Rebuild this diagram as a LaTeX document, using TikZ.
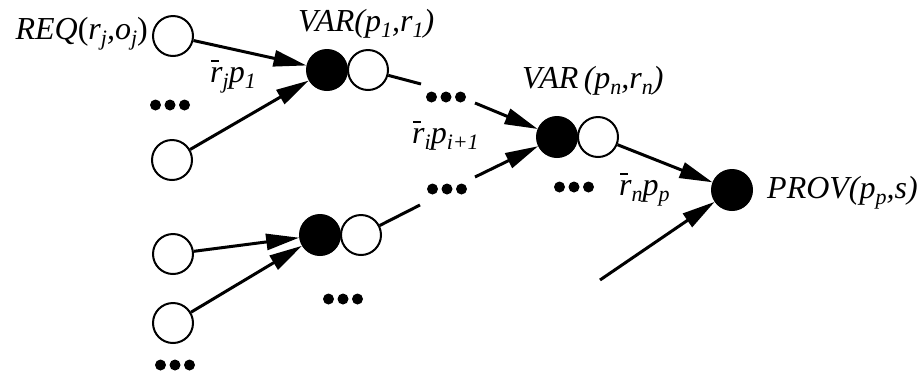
\documentclass[tikz,border=0pt]{standalone}
\usepackage{fontspec}
\setmainfont{Liberation Serif}
\usetikzlibrary{arrows.meta}
\newcommand\rb{\makebox[0pt][l]{\kern0.03em\rule[0.62em]{0.26em}{0.065em}}r}
\newcommand\sbs[1]{\raisebox{-0.2em}{\fontsize{22}{24}\selectfont #1}}
\tikzset{
  wc/.style={circle,draw,line width=2pt,minimum size=40pt,inner sep=0pt,fill=white},
  bc/.style={circle,draw,fill=black,line width=1pt,minimum size=41pt,inner sep=0pt},
  arr/.style={line width=3pt,-{Triangle[length=33pt,width=16pt]}},
  ln/.style={line width=3pt},
  lab/.style={inner sep=0pt,font=\fontsize{32}{38}\selectfont\itshape},
  threedots/.pic={\foreach \dx in {-14.5,0,14.5} \fill (\dx,0) circle[radius=5.5];}
}
\begin{document}
\begin{tikzpicture}[x=1pt,y=-1pt]
\useasboundingbox (0,0) rectangle (917,376);
% circles
\node[wc] (req) at (173,36) {};
\node[wc] (a2) at (172,160) {};
\node[bc] (b1) at (327,70) {};
\node[wc] (w1) at (368,70) {};
\node[wc] (c1) at (173,254) {};
\node[wc] (c2) at (173,323) {};
\node[bc] (b2) at (320,235) {};
\node[wc] (w2) at (361,235) {};
\node[bc] (bn) at (557,137) {};
\node[wc] (wn) at (598,137) {};
\node[bc] (prov) at (732,190) {};
% free ends
\coordinate (m1) at (421,84);
\coordinate (m2) at (475,103);
\coordinate (m3) at (420,205);
\coordinate (m4) at (475,177);
\coordinate (s) at (600,280);
% connectors
\draw[arr] (req) -- (b1);
\draw[arr] (a2) -- (b1);
\draw[ln] (w1) -- (m1);
\draw[arr] (m2) -- (bn);
\draw[ln] (w2) -- (m3);
\draw[arr] (m4) -- (bn);
\draw[arr] (c1) -- (b2);
\draw[arr] (c2) -- (b2);
\draw[arr] (wn) -- (prov);
\draw[arr] (s) -- (prov);
% dots
\pic at (170,105) {threedots};
\pic at (446,97) {threedots};
\pic at (447,189) {threedots};
\pic at (574,187) {threedots};
\pic at (343,299) {threedots};
\pic at (175,365) {threedots};
% labels
\node[lab,anchor=base east] (lreq) at (148,39) {REQ{\upshape(}r\sbs{j},o\sbs{j}{\upshape)}};
\node[lab,anchor=base west] (lv1) at (298,31) {VAR(p\sbs{1},r\sbs{1})};
\node[lab,anchor=base west] (lrj) at (210,82) {\rb\sbs{j}p\sbs{1}};
\node[lab,anchor=base west] (lvn) at (522,88) {VAR\,(p\sbs{n},r\sbs{n})};
\node[lab,anchor=base west] (lri) at (412,143) {\rb\sbs{i}p\sbs{i+1}};
\node[lab,anchor=base west] (lrn) at (619,195) {\rb\sbs{n}p\sbs{p}};
\node[lab,anchor=base west] (lprov) at (767,198) {PROV(p\sbs{p},s)};
\end{tikzpicture}
\end{document}
